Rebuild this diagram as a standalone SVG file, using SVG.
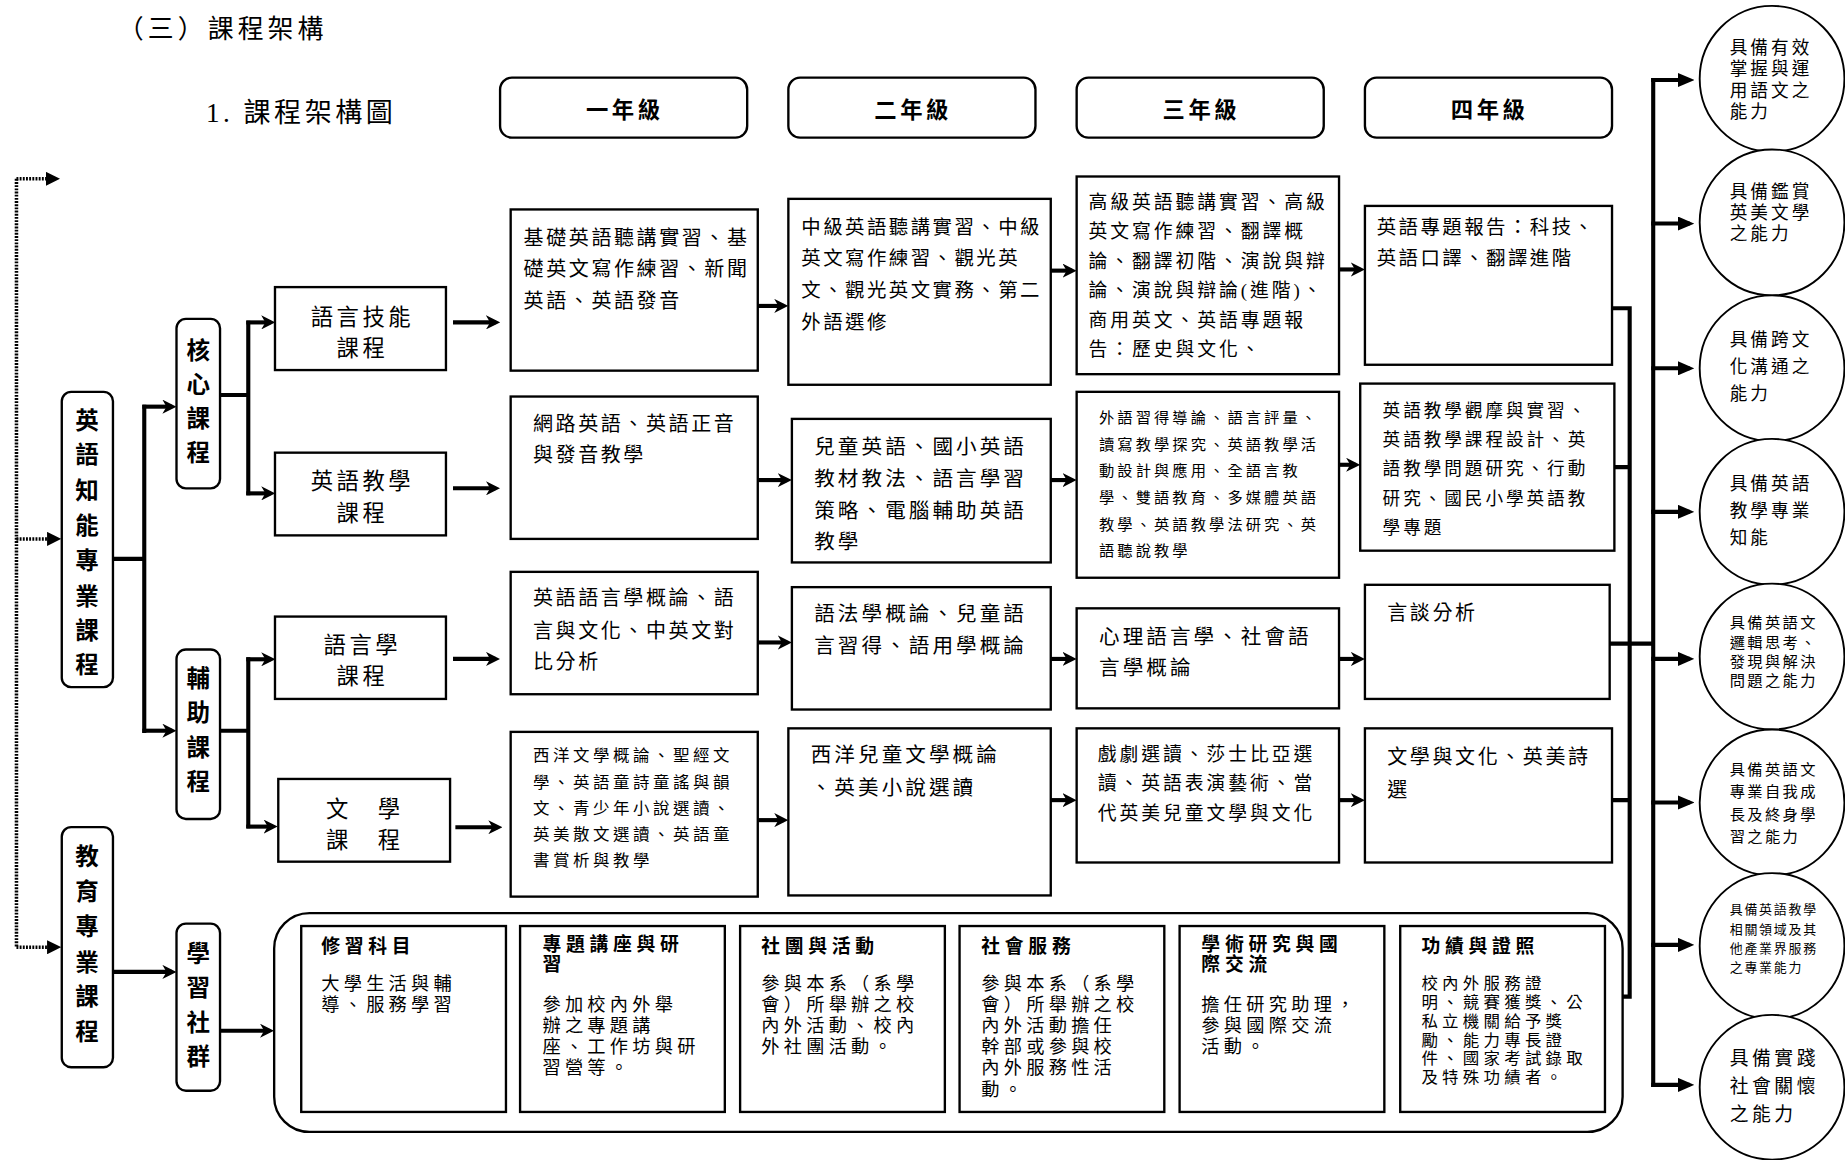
<svg xmlns="http://www.w3.org/2000/svg" width="1845" height="1160" viewBox="0 0 1845 1160">
<style>
text{font-family:"Liberation Serif","Noto Sans CJK TC","Noto Sans CJK SC",serif;fill:#000;dominant-baseline:central}
.b{font-weight:bold}
.box{fill:#fff;stroke:#000;stroke-width:2}
.rbox{fill:#fff;stroke:#000;stroke-width:2}
.circ{fill:#fff;stroke:#000;stroke-width:1.6}
.ln{fill:none;stroke:#000;stroke-width:3.5}
.ar{fill:none;stroke:#000;stroke-width:3.5;marker-end:url(#barb)}
.at{fill:none;stroke:#000;stroke-width:3.5;marker-end:url(#tri)}
.dot{fill:none;stroke:#000;stroke-width:3;stroke-dasharray:1.6 1.1}
.dar{fill:none;stroke:#000;stroke-width:3;stroke-dasharray:1.6 1.1;marker-end:url(#tri2)}
.vc{font-size:20px;font-weight:bold;text-anchor:middle}
.yr{font-size:19px;font-weight:bold;text-anchor:middle;letter-spacing:3px}
.cat{font-size:19px;text-anchor:middle;letter-spacing:3px}
.t17{font-size:17px;letter-spacing:2.2px}
.t16{font-size:16px;letter-spacing:2.5px}
.t165{font-size:16.5px;letter-spacing:2.1px}
.t175{font-size:17.5px;letter-spacing:2.6px}
.t13{font-size:13px;letter-spacing:2.6px}
.t15{font-size:15px;letter-spacing:2.5px}
.t14{font-size:14px;letter-spacing:3px}
.bh{font-size:16px;font-weight:bold;letter-spacing:4px}
.bt{font-size:15.5px;letter-spacing:3.6px}
.bs{font-size:14px;letter-spacing:3.6px}
.c15{font-size:15px;letter-spacing:2.6px}
.c13{font-size:13px;letter-spacing:2px}
.c11{font-size:11px;letter-spacing:1.5px}
.c16{font-size:16px;letter-spacing:3px}
</style>
<defs>
<marker id="barb" viewBox="0 0 12 12" markerWidth="12" markerHeight="12" refX="8" refY="6" orient="auto" markerUnits="userSpaceOnUse">
<path d="M0,0 L12,6 L0,12 L3.5,6 z" fill="#000"/>
</marker>
<marker id="tri" viewBox="0 0 14 12" markerWidth="14" markerHeight="12" refX="10" refY="6" orient="auto" markerUnits="userSpaceOnUse">
<path d="M0,0 L14,6 L0,12 z" fill="#000"/>
</marker>
<marker id="tri2" viewBox="0 0 12 12" markerWidth="12" markerHeight="12" refX="8" refY="6" orient="auto" markerUnits="userSpaceOnUse">
<path d="M0,0 L12,6 L0,12 z" fill="#000"/>
</marker>
</defs>
<rect width="1845" height="1160" fill="#fff"/>
<g transform="scale(1.17666)">
<g id="titles">
<text x="100" y="25" style="font-size:22px;letter-spacing:3.5px">（三）課程架構</text>
<text x="175" y="96" style="font-size:23px;letter-spacing:3px">1. 課程架構圖</text>
</g>
<g id="years">
<rect class="rbox" x="425" y="66" width="210" height="51" rx="10"/><text class="yr" x="531" y="94">一年級</text>
<rect class="rbox" x="670" y="66" width="210" height="51" rx="10"/><text class="yr" x="776" y="94">二年級</text>
<rect class="rbox" x="915" y="66" width="210" height="51" rx="10"/><text class="yr" x="1021" y="94">三年級</text>
<rect class="rbox" x="1160" y="66" width="210" height="51" rx="10"/><text class="yr" x="1266" y="94">四年級</text>
</g>
<g id="connectors">
<path class="dot" d="M14,152 L14,805"/>
<path class="dar" d="M14,152 L47,152"/>
<path class="dar" d="M14,458 L48,458"/>
<path class="dar" d="M14,805 L48,805"/>
<path class="ln" d="M96,475 L122.6,475 M122.6,344 L122.6,623"/>
<path class="ar" d="M121,345.6 L146,345.6"/>
<path class="ar" d="M121,621 L146,621"/>
<path class="ln" d="M187,335.7 L211,335.7 M211,272.5 L211,421"/>
<path class="ar" d="M209.3,274 L230,274"/>
<path class="ar" d="M209.3,419.3 L230,419.3"/>
<path class="ln" d="M187,621 L211,621 M211,558.5 L211,704"/>
<path class="ar" d="M209.3,560.3 L230,560.3"/>
<path class="ar" d="M209.3,702.5 L232,702.5"/>
<path class="ar" d="M385,274 L421,274"/>
<path class="ar" d="M385,415 L421,415"/>
<path class="ar" d="M385,560 L421,560"/>
<path class="ar" d="M387,703 L423,703"/>
<path class="ar" d="M644,260 L666,260"/>
<path class="ar" d="M644,408 L669,408"/>
<path class="ar" d="M644,546 L669,546"/>
<path class="ar" d="M644,697 L666,697"/>
<path class="ar" d="M893,230 L911,230"/>
<path class="ar" d="M893,408 L911,408"/>
<path class="ar" d="M893,560 L911,560"/>
<path class="ar" d="M893,680 L911,680"/>
<path class="ar" d="M1138,229 L1156,229"/>
<path class="ar" d="M1138,395 L1152,395"/>
<path class="ar" d="M1138,560 L1156,560"/>
<path class="ar" d="M1138,680 L1156,680"/>
<path class="ln" d="M1370,262 L1385,262 M1372,397 L1385,397 M1368,547 L1405,547 M1370,680 L1385,680 M1379,847 L1385,847 M1385,260.3 L1385,848.7"/>
<path class="ln" d="M1405,66.3 L1405,923.7"/>
<path class="at" d="M1403.3,68 L1436,68"/>
<path class="at" d="M1403.3,190 L1436,190"/>
<path class="at" d="M1403.3,313 L1436,313"/>
<path class="at" d="M1403.3,435 L1436,435"/>
<path class="at" d="M1403.3,560 L1436,560"/>
<path class="at" d="M1403.3,682 L1436,682"/>
<path class="at" d="M1403.3,803 L1436,803"/>
<path class="at" d="M1403.3,922 L1436,922"/>
<path class="ar" d="M96,826 L146,826"/>
<path class="ar" d="M187,876 L229,876"/>
</g>
<g id="n-english">
<rect class="rbox" x="52.5" y="333" width="43.5" height="251" rx="8"/>
<text class="vc" x="74" y="358">英</text><text class="vc" x="74" y="387">語</text><text class="vc" x="74" y="417">知</text><text class="vc" x="74" y="447">能</text><text class="vc" x="74" y="477">專</text><text class="vc" x="74" y="507">業</text><text class="vc" x="74" y="536">課</text><text class="vc" x="74" y="565">程</text>
</g>
<g id="n-edu">
<rect class="rbox" x="52.5" y="703" width="43.5" height="204" rx="8"/>
<text class="vc" x="74" y="728">教</text><text class="vc" x="74" y="758">育</text><text class="vc" x="74" y="788">專</text><text class="vc" x="74" y="818">業</text><text class="vc" x="74" y="847">課</text><text class="vc" x="74" y="877">程</text>
</g>
<g id="n-core">
<rect class="rbox" x="150" y="271" width="37" height="144" rx="8"/>
<text class="vc" x="168.5" y="298">核</text><text class="vc" x="168.5" y="327">心</text><text class="vc" x="168.5" y="356">課</text><text class="vc" x="168.5" y="385">程</text>
</g>
<g id="n-aux">
<rect class="rbox" x="150" y="552" width="37" height="144" rx="8"/>
<text class="vc" x="168.5" y="577">輔</text><text class="vc" x="168.5" y="606">助</text><text class="vc" x="168.5" y="636">課</text><text class="vc" x="168.5" y="665">程</text>
</g>
<g id="n-community">
<rect class="rbox" x="150" y="785" width="37" height="142" rx="8"/>
<text class="vc" x="168.5" y="811">學</text><text class="vc" x="168.5" y="840">習</text><text class="vc" x="168.5" y="869">社</text><text class="vc" x="168.5" y="898">群</text>
</g>
<g id="n-skills">
<rect class="box" x="233.7" y="244" width="145.3" height="70.5"/>
<text class="cat" x="308" y="270">語言技能</text><text class="cat" x="308" y="296">課程</text>
</g>
<g id="n-teach">
<rect class="box" x="233.7" y="384.7" width="145.3" height="70.3"/>
<text class="cat" x="308" y="409.5">英語教學</text><text class="cat" x="308" y="436">課程</text>
</g>
<g id="n-ling">
<rect class="box" x="233.7" y="524" width="145.3" height="70"/>
<text class="cat" x="308" y="549">語言學</text><text class="cat" x="308" y="575">課程</text>
</g>
<g id="n-lit">
<rect class="box" x="236.5" y="662" width="146" height="70.3"/>
<text class="cat" x="310" y="688">文　學</text><text class="cat" x="310" y="714">課　程</text>
</g>
<g id="r1y1">
<rect class="box" x="434" y="178" width="210" height="137"/>
<text class="t17" x="445" y="202">基礎英語聽講實習、基</text><text class="t17" x="445" y="229">礎英文寫作練習、新聞</text><text class="t17" x="445" y="256">英語、英語發音</text>
</g>
<g id="r1y2">
<rect class="box" x="670" y="169" width="223" height="158"/>
<text class="t165" x="681" y="193">中級英語聽講實習、中級</text><text class="t165" x="681" y="220">英文寫作練習、觀光英</text><text class="t165" x="681" y="247">文、觀光英文實務、第二</text><text class="t165" x="681" y="274">外語選修</text>
</g>
<g id="r1y3">
<rect class="box" x="915" y="150" width="223" height="168"/>
<text class="t16" x="925" y="172">高級英語聽講實習、高級</text><text class="t16" x="925" y="197">英文寫作練習、翻譯概</text><text class="t16" x="925" y="222">論、翻譯初階、演說與辯</text><text class="t16" x="925" y="247">論、演說與辯論(進階)、</text><text class="t16" x="925" y="272">商用英文、英語專題報</text><text class="t16" x="925" y="297">告：歷史與文化、</text>
</g>
<g id="r1y4">
<rect class="box" x="1160" y="175" width="210" height="135"/>
<text class="t165" x="1170" y="193">英語專題報告：科技、</text><text class="t165" x="1170" y="220">英語口譯、翻譯進階</text>
</g>
<g id="r2y1">
<rect class="box" x="434" y="337" width="210" height="121"/>
<text class="t17" x="453" y="360">網路英語、英語正音</text><text class="t17" x="453" y="387">與發音教學</text>
</g>
<g id="r2y2">
<rect class="box" x="673" y="356" width="220" height="122"/>
<text class="t175" x="692" y="380">兒童英語、國小英語</text><text class="t175" x="692" y="407">教材教法、語言學習</text><text class="t175" x="692" y="434">策略、電腦輔助英語</text><text class="t175" x="692" y="461">教學</text>
</g>
<g id="r2y3">
<rect class="box" x="915" y="333" width="223" height="158"/>
<text class="t13" x="934" y="355">外語習得導論、語言評量、</text><text class="t13" x="934" y="378">讀寫教學探究、英語教學活</text><text class="t13" x="934" y="400">動設計與應用、全語言教</text><text class="t13" x="934" y="423">學、雙語教育、多媒體英語</text><text class="t13" x="934" y="446">教學、英語教學法研究、英</text><text class="t13" x="934" y="468">語聽說教學</text>
</g>
<g id="r2y4">
<rect class="box" x="1156" y="326" width="216" height="142"/>
<text class="t15" x="1175" y="349">英語教學觀摩與實習、</text><text class="t15" x="1175" y="374">英語教學課程設計、英</text><text class="t15" x="1175" y="399">語教學問題研究、行動</text><text class="t15" x="1175" y="424">研究、國民小學英語教</text><text class="t15" x="1175" y="449">學專題</text>
</g>
<g id="r3y1">
<rect class="box" x="434" y="486" width="210" height="104"/>
<text class="t17" x="453" y="508">英語語言學概論、語</text><text class="t17" x="453" y="536">言與文化、中英文對</text><text class="t17" x="453" y="563">比分析</text>
</g>
<g id="r3y2">
<rect class="box" x="673" y="499" width="220" height="104"/>
<text class="t175" x="692" y="522">語法學概論、兒童語</text><text class="t175" x="692" y="549">言習得、語用學概論</text>
</g>
<g id="r3y3">
<rect class="box" x="915" y="517" width="223" height="85"/>
<text class="t175" x="934" y="541">心理語言學、社會語</text><text class="t175" x="934" y="568">言學概論</text>
</g>
<g id="r3y4">
<rect class="box" x="1160" y="497" width="208" height="97"/>
<text class="t17" x="1179" y="521">言談分析</text>
</g>
<g id="r4y1">
<rect class="box" x="434" y="622" width="210" height="140"/>
<text class="t14" x="453" y="642">西洋文學概論、聖經文</text><text class="t14" x="453" y="665">學、英語童詩童謠與韻</text><text class="t14" x="453" y="687">文、青少年小說選讀、</text><text class="t14" x="453" y="709">英美散文選讀、英語童</text><text class="t14" x="453" y="731">書賞析與教學</text>
</g>
<g id="r4y2">
<rect class="box" x="670" y="619" width="223" height="142"/>
<text class="t175" x="689" y="642">西洋兒童文學概論</text><text class="t175" x="689" y="670">、英美小說選讀</text>
</g>
<g id="r4y3">
<rect class="box" x="915" y="619" width="223" height="114"/>
<text class="t16" x="933" y="641">戲劇選讀、莎士比亞選</text><text class="t16" x="933" y="666">讀、英語表演藝術、當</text><text class="t16" x="933" y="691">代英美兒童文學與文化</text>
</g>
<g id="r4y4">
<rect class="box" x="1160" y="619" width="210" height="114"/>
<text class="t17" x="1179" y="643">文學與文化、英美詩</text><text class="t17" x="1179" y="671">選</text>
</g>
<g id="n-container">
<rect class="rbox" x="233" y="776" width="1146" height="186" rx="30"/>
</g>
<g id="b1">
<rect class="box" x="256" y="787" width="174" height="158"/>
<text class="bh" x="273" y="804">修習科目</text>
<text class="bt" x="273" y="836">大學生活與輔</text><text class="bt" x="273" y="854">導、服務學習</text>
</g>
<g id="b2">
<rect class="box" x="442" y="787" width="174" height="158"/>
<text class="bh" x="461" y="803">專題講座與研</text><text class="bh" x="461" y="820">習</text>
<text class="bt" x="461" y="854">參加校內外舉</text><text class="bt" x="461" y="872">辦之專題講</text><text class="bt" x="461" y="890">座、工作坊與研</text><text class="bt" x="461" y="908">習營等。</text>
</g>
<g id="b3">
<rect class="box" x="629" y="787" width="174" height="158"/>
<text class="bh" x="647" y="804">社團與活動</text>
<text class="bt" x="647" y="836">參與本系（系學</text><text class="bt" x="647" y="854">會）所舉辦之校</text><text class="bt" x="647" y="872">內外活動、校內</text><text class="bt" x="647" y="890">外社團活動。</text>
</g>
<g id="b4">
<rect class="box" x="815.5" y="787" width="174" height="158"/>
<text class="bh" x="834" y="804">社會服務</text>
<text class="bt" x="834" y="836">參與本系（系學</text><text class="bt" x="834" y="854">會）所舉辦之校</text><text class="bt" x="834" y="872">內外活動擔任</text><text class="bt" x="834" y="890">幹部或參與校</text><text class="bt" x="834" y="908">內外服務性活</text><text class="bt" x="834" y="926">動。</text>
</g>
<g id="b5">
<rect class="box" x="1002.5" y="787" width="174" height="158"/>
<text class="bh" x="1021" y="803">學術研究與國</text><text class="bh" x="1021" y="820">際交流</text>
<text class="bt" x="1021" y="854">擔任研究助理，</text><text class="bt" x="1021" y="872">參與國際交流</text><text class="bt" x="1021" y="890">活動。</text>
</g>
<g id="b6">
<rect class="box" x="1190" y="787" width="174" height="158"/>
<text class="bh" x="1208" y="804">功績與證照</text>
<text class="bs" x="1208" y="836">校內外服務證</text><text class="bs" x="1208" y="852">明、競賽獲獎、公</text><text class="bs" x="1208" y="868">私立機關給予獎</text><text class="bs" x="1208" y="884">勵、能力專長證</text><text class="bs" x="1208" y="900">件、國家考試錄取</text><text class="bs" x="1208" y="916">及特殊功績者。</text>
</g>
<g id="o1">
<ellipse class="circ" cx="1506" cy="67" rx="61.5" ry="62"/>
<text class="c15" x="1470" y="41">具備有效</text><text class="c15" x="1470" y="59">掌握與運</text><text class="c15" x="1470" y="77">用語文之</text><text class="c15" x="1470" y="95">能力</text>
</g>
<g id="o2">
<ellipse class="circ" cx="1506" cy="189" rx="61.5" ry="62"/>
<text class="c15" x="1470" y="163">具備鑑賞</text><text class="c15" x="1470" y="181">英美文學</text><text class="c15" x="1470" y="199">之能力</text>
</g>
<g id="o3">
<ellipse class="circ" cx="1506" cy="313" rx="61.5" ry="62"/>
<text class="c15" x="1470" y="289">具備跨文</text><text class="c15" x="1470" y="312">化溝通之</text><text class="c15" x="1470" y="335">能力</text>
</g>
<g id="o4">
<ellipse class="circ" cx="1506" cy="435" rx="61.5" ry="62"/>
<text class="c15" x="1470" y="411">具備英語</text><text class="c15" x="1470" y="434">教學專業</text><text class="c15" x="1470" y="457">知能</text>
</g>
<g id="o5">
<ellipse class="circ" cx="1506" cy="558" rx="61.5" ry="62"/>
<text class="c13" x="1470" y="529">具備英語文</text><text class="c13" x="1470" y="546">邏輯思考、</text><text class="c13" x="1470" y="562">發現與解決</text><text class="c13" x="1470" y="578">問題之能力</text>
</g>
<g id="o6">
<ellipse class="circ" cx="1506" cy="682" rx="61.5" ry="62"/>
<text class="c13" x="1470" y="654">具備英語文</text><text class="c13" x="1470" y="673">專業自我成</text><text class="c13" x="1470" y="692">長及終身學</text><text class="c13" x="1470" y="711">習之能力</text>
</g>
<g id="o7">
<ellipse class="circ" cx="1506" cy="804" rx="61.5" ry="62"/>
<text class="c11" x="1470" y="773">具備英語教學</text><text class="c11" x="1470" y="790">相關領域及其</text><text class="c11" x="1470" y="806">他產業界服務</text><text class="c11" x="1470" y="822">之專業能力</text>
</g>
<g id="o8">
<ellipse class="circ" cx="1506" cy="924" rx="61.5" ry="61.5"/>
<text class="c16" x="1470" y="900">具備實踐</text><text class="c16" x="1470" y="923">社會關懷</text><text class="c16" x="1470" y="947">之能力</text>
</g>
</g>
</svg>
